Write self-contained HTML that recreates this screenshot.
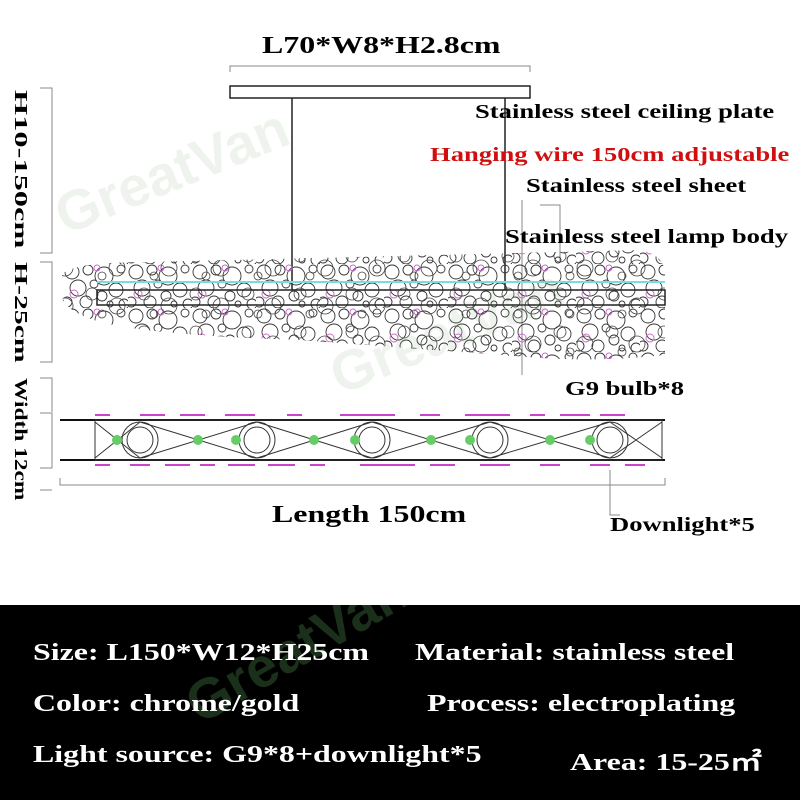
<!DOCTYPE html>
<html><head><style>
body{margin:0;width:800px;height:800px;background:#fff;position:relative;overflow:hidden;font-family:"Liberation Serif",serif;font-weight:bold}
.t{position:absolute;white-space:nowrap;transform:scaleX(1.33);transform-origin:0 0}
.v{position:absolute;writing-mode:vertical-rl;font-size:18px;white-space:nowrap;transform-origin:0 0}
#blk{position:absolute;left:0;top:605px;width:800px;height:195px;background:#000;color:#fff;font-size:24px}
</style></head><body>
<svg width="800" height="605" style="position:absolute;left:0;top:0">
<defs>
<pattern id="bp" x="0" y="0" width="64" height="44" patternUnits="userSpaceOnUse">
<g fill="none" stroke="#333" stroke-width="0.9">
<circle cx="8" cy="8" r="7"/><circle cx="24" cy="6" r="5"/><circle cx="40" cy="12" r="9"/><circle cx="57" cy="5" r="4"/>
<circle cx="14" cy="24" r="8"/><circle cx="30" cy="20" r="4"/><circle cx="52" cy="26" r="7"/><circle cx="3" cy="38" r="5"/>
<circle cx="22" cy="38" r="6"/><circle cx="38" cy="32" r="5"/><circle cx="46" cy="40" r="3"/><circle cx="60" cy="40" r="5"/>
<circle cx="33" cy="4" r="3" stroke="#c6c"/><circle cx="10" cy="30" r="4" stroke="#c6c"/>
</g>
</pattern>
<pattern id="bp2" x="30" y="18" width="52" height="38" patternUnits="userSpaceOnUse">
<g fill="none" stroke="#444" stroke-width="0.8"><circle cx="10" cy="10" r="6"/><circle cx="35" cy="22" r="8"/><circle cx="20" cy="30" r="4"/></g>
</pattern>
</defs>
<g stroke="#888" fill="none" stroke-width="1">
<path d="M230 72V66H530V72"/>
<path d="M40 88H52V253H40M40 262H52V362H40M40 378H52V412M40 413H52V468H40M40 490H52"/>
<path d="M60 478V485H665V478"/>
<path d="M522 200V375M540 205H560V262M560 255V260M610 470V515H620"/>
</g>
<rect x="230" y="86" width="300" height="12" fill="#fff" stroke="#222" stroke-width="1.5"/>
<path d="M292 98V290M505 98V290" stroke="#222" stroke-width="1.5"/>
<path d="M62 275Q70 262 150 262L640 250Q665 255 665 275L665 355Q600 362 540 358L300 340Q150 335 100 322Q62 310 62 295Z" fill="url(#bp)"/>
<path d="M62 275Q70 262 150 262L640 250Q665 255 665 275L665 355Q600 362 540 358L300 340Q150 335 100 322Q62 310 62 295Z" fill="url(#bp2)"/>
<rect x="97" y="290" width="568" height="15" fill="none" stroke="#222" stroke-width="1.5"/>
<path d="M97 282H665" stroke="#7dd" stroke-width="2"/>
<path d="M60 420H665M60 460H665" stroke="#111" stroke-width="2"/>
<rect x="95" y="420" width="567" height="40" fill="none" stroke="#333"/>
<g fill="none" stroke="#333">
<circle cx="140" cy="440" r="18"/><circle cx="140" cy="440" r="13"/>
<circle cx="257" cy="440" r="18"/><circle cx="257" cy="440" r="13"/>
<circle cx="372" cy="440" r="18"/><circle cx="372" cy="440" r="13"/>
<circle cx="490" cy="440" r="18"/><circle cx="490" cy="440" r="13"/>
<circle cx="610" cy="440" r="18"/><circle cx="610" cy="440" r="13"/>
<path d="M95 422L140 458M95 458L140 422M140 422L257 458M140 458L257 422M257 422L372 458M257 458L372 422M372 422L490 458M372 458L490 422M490 422L610 458M490 458L610 422M610 422L662 458M610 458L662 422"/>
</g>
<g fill="#6c6">
<circle cx="117" cy="440" r="5"/><circle cx="198" cy="440" r="5"/><circle cx="236" cy="440" r="5"/><circle cx="314" cy="440" r="5"/><circle cx="355" cy="440" r="5"/><circle cx="431" cy="440" r="5"/><circle cx="470" cy="440" r="5"/><circle cx="550" cy="440" r="5"/><circle cx="590" cy="440" r="5"/>
</g>
<g stroke="#c4c" stroke-width="2">
<path d="M95 415H110M140 415H165M180 415H205M225 415H255M287 415H302M340 415H395M420 415H440M465 415H510M530 415H545M560 415H590M600 415H625"/>
<path d="M95 465H110M130 465H150M165 465H190M200 465H215M228 465H255M268 465H295M310 465H325M360 465H415M430 465H455M480 465H510M540 465H560M590 465H610M625 465H645"/>
</g>
<text x="65" y="235" font-size="56" fill="#7a9a6a" fill-opacity="0.12" transform="rotate(-22 65 235)" font-family="Liberation Sans">GreatVan</text>
<text x="340" y="395" font-size="56" fill="#7a9a6a" fill-opacity="0.12" transform="rotate(-22 340 395)" font-family="Liberation Sans">GreatVan</text>
</svg>
<div class="t" style="left:262px;top:33px;font-size:24px">L70*W8*H2.8cm</div>
<div class="t" style="left:475px;top:101px;font-size:20px">Stainless steel ceiling plate</div>
<div class="t" style="left:430px;top:144px;font-size:20px;color:#d01010">Hanging wire 150cm adjustable</div>
<div class="t" style="left:526px;top:175px;font-size:20px">Stainless steel sheet</div>
<div class="t" style="left:505px;top:226px;font-size:20px">Stainless steel lamp body</div>
<div class="t" style="left:565px;top:378px;font-size:20px">G9 bulb*8</div>
<div class="t" style="left:272px;top:502px;font-size:24px">Length 150cm</div>
<div class="t" style="left:610px;top:514px;font-size:20px">Downlight*5</div>
<div class="v" style="left:10px;top:90px;transform:scaleY(1.8)">H10-150cm</div>
<div class="v" style="left:10px;top:262px;transform:scaleY(1.65)">H-25cm</div>
<div class="v" style="left:10px;top:378px;transform:scaleY(1.3)">Width 12cm</div>
<div id="blk">
<svg width="800" height="195" style="position:absolute;left:0;top:0"><text x="200" y="120" font-size="56" fill="#4a8a4a" fill-opacity="0.35" transform="rotate(-30 200 120)" font-family="Liberation Sans">GreatVan</text></svg>
<div class="t" style="left:33px;top:35px">Size: L150*W12*H25cm</div>
<div class="t" style="left:415px;top:35px">Material: stainless steel</div>
<div class="t" style="left:33px;top:86px">Color: chrome/gold</div>
<div class="t" style="left:427px;top:86px">Process: electroplating</div>
<div class="t" style="left:33px;top:137px">Light source: G9*8+downlight*5</div>
<div class="t" style="left:570px;top:137px">Area: 15-25㎡</div>
</div>
</body></html>
